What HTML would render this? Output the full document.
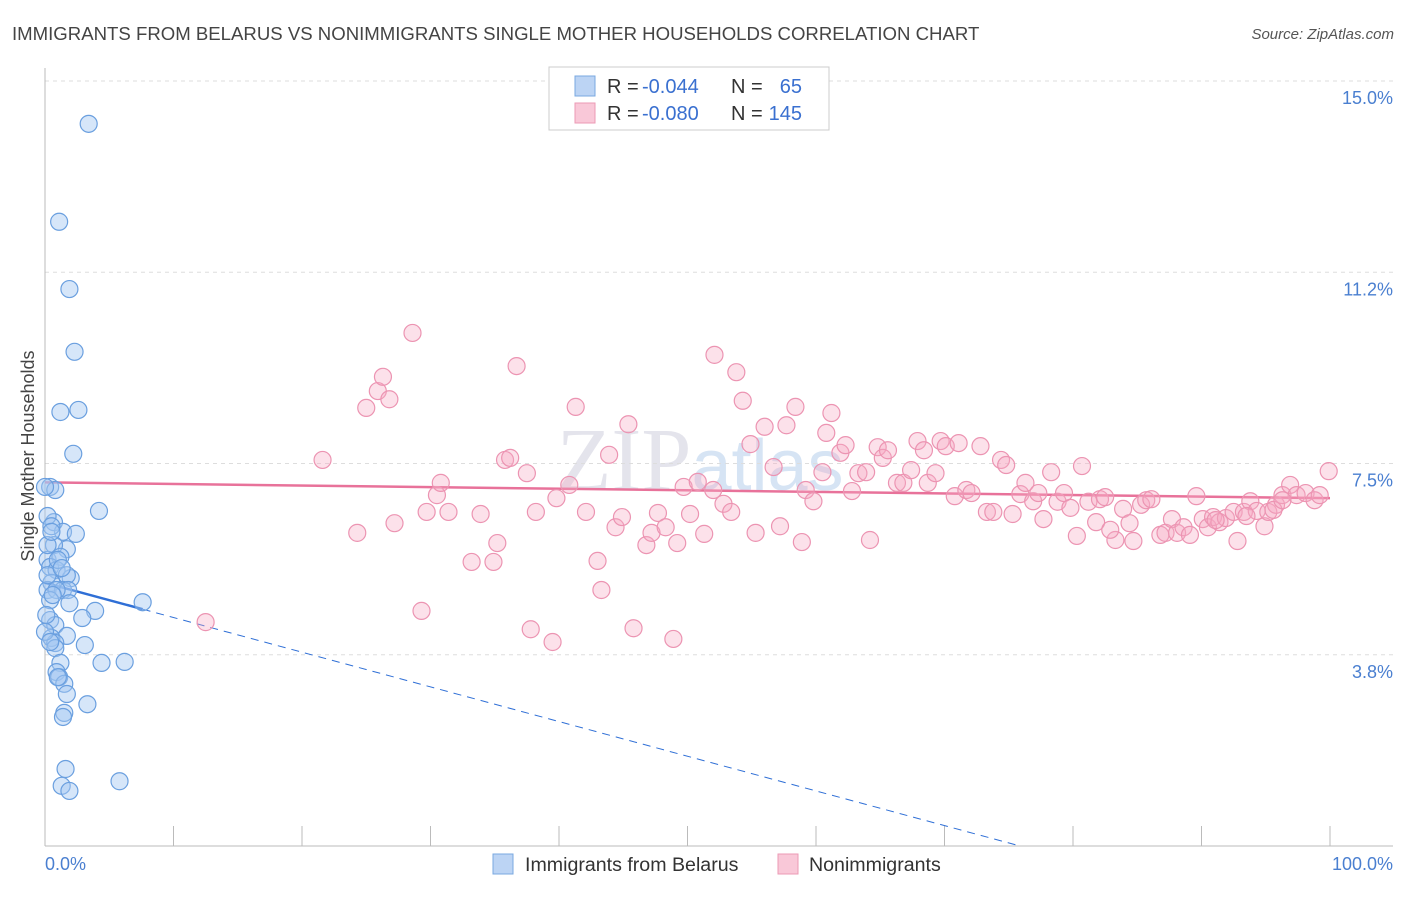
<!DOCTYPE html>
<html><head><meta charset="utf-8"><style>
body{margin:0;background:#fff;font-family:"Liberation Sans",sans-serif}
</style></head><body>
<svg id="chart" width="1406" height="892" xmlns="http://www.w3.org/2000/svg" font-family="Liberation Sans, sans-serif">
<text x="12" y="40" font-size="18.6" fill="#444">IMMIGRANTS FROM BELARUS VS NONIMMIGRANTS SINGLE MOTHER HOUSEHOLDS CORRELATION CHART</text>
<text x="1394" y="39" font-size="15" fill="#555" text-anchor="end" font-style="italic">Source: ZipAtlas.com</text>
<text x="700" y="490" font-size="90" fill="#e4e4ec" text-anchor="middle" font-family="Liberation Serif, serif">ZIP<tspan fill="#d6e4f4" font-family="Liberation Sans, sans-serif" font-size="72">atlas</tspan></text>
<g id="grid"></g><g id="axes"></g><g id="trend"></g><g id="pts"></g>
<text transform="translate(34,456) rotate(-90)" font-size="18" fill="#444" text-anchor="middle">Single Mother Households</text>
<g>
<rect x="549" y="67" width="280" height="63" fill="#fff" stroke="#ccc"/>
<rect x="575" y="76" width="20" height="20" fill="#bcd4f4" stroke="#7aa8e0"/>
<rect x="575" y="103" width="20" height="20" fill="#f9c8d8" stroke="#ec9ab5"/>
<text x="607" y="93" font-size="20" fill="#333">R =</text>
<text x="642" y="93" font-size="20" fill="#3a70d0">-0.044</text>
<text x="731" y="93" font-size="20" fill="#333">N =</text>
<text x="802" y="93" font-size="20" fill="#3a70d0" text-anchor="end">65</text>
<text x="607" y="120" font-size="20" fill="#333">R =</text>
<text x="642" y="120" font-size="20" fill="#3a70d0">-0.080</text>
<text x="731" y="120" font-size="20" fill="#333">N =</text>
<text x="802" y="120" font-size="20" fill="#3a70d0" text-anchor="end">145</text>
</g>
<g>
<rect x="493" y="854" width="20" height="20" fill="#bcd4f4" stroke="#7aa8e0"/>
<text x="525" y="871" font-size="19.6" fill="#333">Immigrants from Belarus</text>
<rect x="778" y="854" width="20" height="20" fill="#f9c8d8" stroke="#ec9ab5"/>
<text x="809" y="871" font-size="19.6" fill="#333">Nonimmigrants</text>
</g>
</svg>
<script>
const yTicks=[15.0,11.25,7.5,3.75];
const yTickLabels=["15.0%","11.2%","7.5%","3.8%"];
const xTickLabels=["0.0%","100.0%"];
const blueX=[3.4,1.1,1.9,2.3,1.2,2.6,2.2,0.4,0.8,4.2,0.7,1.4,2.4,1.7,0.7,0.2,1.2,0.4,0.9,2.0,1.7,0.5,0.2,1.4,1.8,0.9,0.4,1.9,3.9,2.9,7.6,0.4,0.8,1.7,0.5,3.1,0.8,4.4,6.2,0.8,1.2,0.9,1.1,1.5,1.7,3.3,1.5,1.4,1.6,1.3,1.9,5.8,0.2,0.5,0.2,1.0,0.0,0.2,0.6,0.1,0.5,1.3,1.0,0.0,0.4];
const blueY=[14.16,12.24,10.92,9.69,8.51,8.55,7.69,7.04,6.98,6.57,6.35,6.16,6.12,5.82,5.90,5.61,5.67,5.47,5.41,5.25,5.31,5.16,5.02,5.02,5.02,5.02,4.82,4.76,4.61,4.47,4.78,4.43,4.33,4.12,4.08,3.94,3.98,3.59,3.61,3.88,3.59,3.41,3.31,3.18,2.98,2.78,2.61,2.53,1.51,1.18,1.08,1.27,6.47,6.27,5.31,5.61,4.20,5.90,4.92,4.53,6.16,5.45,3.31,7.04,4.00];
const pinkX=[12.5,21.6,24.3,25.0,25.9,26.3,26.8,27.2,28.6,29.3,29.7,30.5,30.8,31.4,33.2,33.9,34.9,35.2,35.8,36.2,36.7,37.5,37.8,38.2,39.5,39.8,40.8,41.3,42.1,43.0,43.3,43.9,44.4,44.9,45.4,45.8,46.8,47.2,47.7,48.3,48.9,49.2,49.7,50.2,50.8,51.3,52.0,52.1,52.8,53.4,53.8,54.3,54.9,55.3,56.0,56.7,57.2,57.7,58.4,58.9,59.2,59.8,60.5,60.8,61.2,61.9,62.3,62.8,63.3,63.9,64.2,64.8,65.2,65.6,66.3,66.8,67.4,67.9,68.4,68.7,69.3,69.7,70.1,70.8,71.1,71.7,72.1,72.8,73.3,73.8,74.4,74.8,75.3,75.9,76.3,76.9,77.3,77.7,78.3,78.8,79.3,79.8,80.3,80.7,81.2,81.8,82.1,82.5,83.3,83.9,84.4,84.7,85.3,85.7,86.1,86.8,87.2,87.7,88.1,88.6,89.1,89.6,90.1,90.5,90.9,91.4,91.9,92.5,92.8,93.3,93.8,94.3,94.9,95.2,95.8,96.3,96.9,97.4,98.1,98.8,99.2,99.9,95.6,96.3,93.5,91.1,82.9];
const pinkY=[4.39,7.57,6.14,8.59,8.92,9.20,8.76,6.33,10.06,4.61,6.55,6.88,7.12,6.55,5.57,6.51,5.57,5.94,7.57,7.61,9.41,7.31,4.25,6.55,4.00,6.82,7.08,8.61,6.55,5.59,5.02,7.67,6.25,6.45,8.27,4.27,5.90,6.14,6.53,6.25,4.06,5.94,7.04,6.51,7.14,6.12,6.98,9.63,6.71,6.55,9.29,8.73,7.88,6.14,8.22,7.43,6.27,8.25,8.61,5.96,6.98,6.76,7.33,8.10,8.49,7.71,7.86,6.96,7.31,7.33,6.00,7.82,7.61,7.76,7.12,7.12,7.37,7.94,7.76,7.12,7.31,7.94,7.84,6.86,7.90,6.98,6.92,7.84,6.55,6.55,7.57,7.47,6.51,6.90,7.12,6.76,6.92,6.41,7.33,6.75,6.92,6.63,6.08,7.45,6.75,6.35,6.80,6.84,6.00,6.61,6.33,5.98,6.69,6.78,6.80,6.10,6.14,6.41,6.14,6.25,6.10,6.86,6.41,6.25,6.45,6.35,6.43,6.55,5.98,6.55,6.76,6.57,6.27,6.55,6.69,6.88,7.08,6.88,6.92,6.78,6.88,7.35,6.59,6.78,6.47,6.39,6.20];
const blueFit=[5.16,-0.068];
const pinkFit=[7.13,-0.0031];
const X=v=>45+v*12.85, Y=v=>81+(15-v)*51;
const NS="http://www.w3.org/2000/svg";
function mk(p,t,a){const e=document.createElementNS(NS,t);for(const k in a)e.setAttribute(k,a[k]);document.getElementById(p).appendChild(e);return e;}
yTicks.forEach((v,i)=>{
 const l=mk('grid','line',{x1:45,x2:1393,y1:Y(v),y2:Y(v),stroke:'#ddd','stroke-dasharray':'4,4'});
 
 
 const t=mk('axes','text',{x:1393,y:Y(v)+23,'font-size':18,fill:'#4a7fd0','text-anchor':'end'});t.textContent=yTickLabels[i];
 
 
});
const ax=mk('axes','line',{x1:45,x2:1393,y1:846,y2:846,stroke:'#bbb'});


const ay=mk('axes','line',{x1:45,x2:45,y1:68,y2:846,stroke:'#bbb'});


for(let i=1;i<=10;i++){const k=mk('axes','line',{x1:X(i*10),x2:X(i*10),y1:826,y2:846,stroke:'#bbb'});
 
 }
const t0=mk('axes','text',{x:45,y:870,'font-size':18,fill:'#4a7fd0'});t0.textContent=xTickLabels[0];


const t1=mk('axes','text',{x:1393,y:870,'font-size':18,fill:'#4a7fd0','text-anchor':'end'});t1.textContent=xTickLabels[1];


const bMax=Math.max(...blueX), bEnd=-blueFit[0]/blueFit[1];
const bl1=mk('trend','line',{x1:X(0),y1:Y(blueFit[0]),x2:X(bMax),y2:Y(blueFit[0]+blueFit[1]*bMax),stroke:'#2f6fd6','stroke-width':2.5});


const bl2=mk('trend','line',{x1:X(bMax),y1:Y(blueFit[0]+blueFit[1]*bMax),x2:X(bEnd),y2:Y(0),stroke:'#2f6fd6','stroke-width':1,'stroke-dasharray':'8,6'});


const pl=mk('trend','line',{x1:X(0),y1:Y(pinkFit[0]),x2:X(100),y2:Y(pinkFit[0]+pinkFit[1]*100),stroke:'#e8729a','stroke-width':2.5});


pinkX.forEach((x,i)=>{const c=mk('pts','circle',{cx:X(x),cy:Y(pinkY[i]),r:8.5,fill:'rgba(245,170,195,0.35)',stroke:'#ec94b2','stroke-width':1.2});
 
 });
blueX.forEach((x,i)=>{const c=mk('pts','circle',{cx:X(x),cy:Y(blueY[i]),r:8.5,fill:'rgba(165,200,242,0.45)',stroke:'#6a9fdf','stroke-width':1.2});
 
 });
</script>
</body></html>
